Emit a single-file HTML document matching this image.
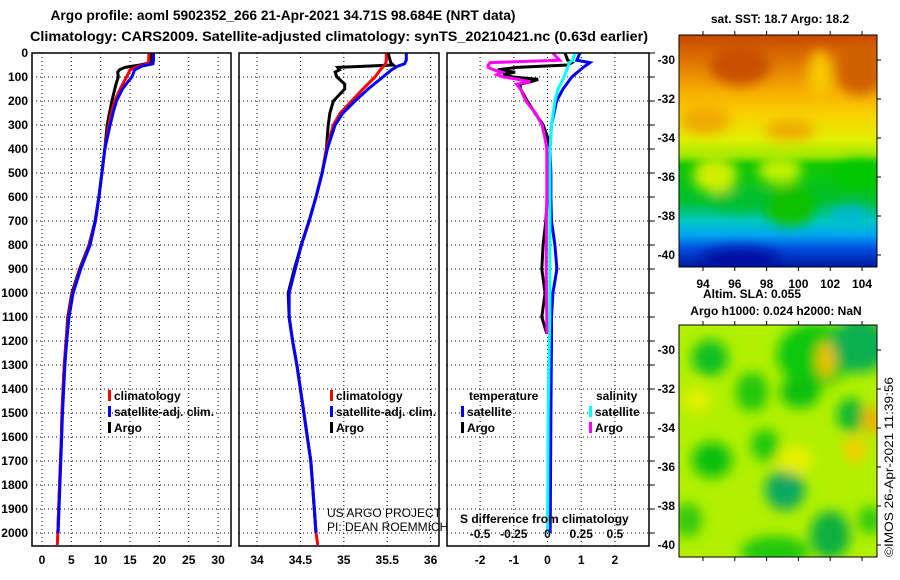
<!DOCTYPE html>
<html><head><meta charset="utf-8"><style>
html,body{margin:0;padding:0;background:#fff;}
svg{display:block;font-family:"Liberation Sans",Arial,sans-serif;}
.b{font-weight:bold;font-size:12px;}
</style></head><body>
<svg id="chart" width="900" height="580" viewBox="0 0 900 580" xmlns="http://www.w3.org/2000/svg">
<defs>
<filter id="blur" x="-20%" y="-20%" width="140%" height="140%"><feGaussianBlur stdDeviation="6"/></filter>
<clipPath id="clipM1"><rect x="679" y="35" width="198" height="232"/></clipPath>
<clipPath id="clipM2"><rect x="679" y="325" width="198" height="232"/></clipPath>
<linearGradient id="sstGrad" x1="0" y1="0" x2="0" y2="1">
<stop offset="0" stop-color="#c84800"/><stop offset="0.12" stop-color="#e07800"/><stop offset="0.25" stop-color="#f8b000"/><stop offset="0.35" stop-color="#f8d400"/><stop offset="0.45" stop-color="#e0f000"/><stop offset="0.52" stop-color="#a0e800"/><stop offset="0.56" stop-color="#10c800"/><stop offset="0.72" stop-color="#00c030"/><stop offset="0.8" stop-color="#00c8c0"/><stop offset="0.86" stop-color="#00a8f0"/><stop offset="0.92" stop-color="#0050e0"/><stop offset="1" stop-color="#0018a0"/>
</linearGradient>
</defs>
<g id="titles">
<text x="283" y="20" text-anchor="middle" font-weight="bold" font-size="14" textLength="465" lengthAdjust="spacingAndGlyphs">Argo profile: aoml 5902352_266 21-Apr-2021 34.71S 98.684E (NRT data)</text>
<text x="339" y="41" text-anchor="middle" font-weight="bold" font-size="14" textLength="618" lengthAdjust="spacingAndGlyphs">Climatology: CARS2009. Satellite-adjusted climatology: synTS_20210421.nc (0.63d earlier)</text>
</g>
<g id="grids"></g>
<g id="series"></g>
<g id="frames"></g>
<g id="labels"></g>

<g clip-path="url(#clipM1)">
<rect x="679" y="35" width="198" height="232" fill="url(#sstGrad)"/>
<g filter="url(#blur)">
<ellipse cx="740" cy="65" rx="30" ry="20" fill="#c85000"/>
<ellipse cx="860" cy="70" rx="25" ry="25" fill="#d06000"/>
<ellipse cx="820" cy="75" rx="12" ry="25" fill="#f8c800"/>
<ellipse cx="705" cy="120" rx="25" ry="14" fill="#f0a800"/>
<ellipse cx="790" cy="130" rx="25" ry="10" fill="#f0a800"/>
<ellipse cx="715" cy="175" rx="22" ry="18" fill="#d0f000"/>
<ellipse cx="780" cy="170" rx="22" ry="14" fill="#c0f000"/>
<ellipse cx="860" cy="175" rx="25" ry="15" fill="#00c800"/>
<ellipse cx="790" cy="206" rx="26" ry="20" fill="#10c000"/>
<ellipse cx="740" cy="200" rx="30" ry="10" fill="#00c030"/>
<ellipse cx="850" cy="215" rx="20" ry="10" fill="#00b8d0"/>
<ellipse cx="740" cy="260" rx="40" ry="12" fill="#0010a0"/>
</g>
</g>
<g clip-path="url(#clipM2)">
<rect x="679" y="325" width="198" height="232" fill="#b0f000"/>
<g filter="url(#blur)">
<ellipse cx="815" cy="355" rx="38" ry="32" fill="#10c810"/>
<ellipse cx="860" cy="345" rx="28" ry="28" fill="#10b050"/>
<ellipse cx="710" cy="358" rx="18" ry="18" fill="#10c020"/>
<ellipse cx="752" cy="392" rx="16" ry="20" fill="#20c810"/>
<ellipse cx="800" cy="392" rx="20" ry="16" fill="#10c010"/>
<ellipse cx="851" cy="415" rx="14" ry="17" fill="#10b830"/>
<ellipse cx="712" cy="460" rx="20" ry="18" fill="#10c010"/>
<ellipse cx="765" cy="445" rx="14" ry="16" fill="#20c810"/>
<ellipse cx="785" cy="490" rx="20" ry="20" fill="#10a860"/>
<ellipse cx="830" cy="535" rx="20" ry="24" fill="#10b040"/>
<ellipse cx="775" cy="552" rx="34" ry="16" fill="#20c810"/>
<ellipse cx="688" cy="520" rx="14" ry="17" fill="#30c810"/>
<ellipse cx="870" cy="520" rx="12" ry="14" fill="#30c810"/>
<ellipse cx="826" cy="360" rx="9" ry="18" fill="#f0c000"/>
<ellipse cx="872" cy="420" rx="10" ry="14" fill="#f0b000"/>
<ellipse cx="855" cy="450" rx="12" ry="14" fill="#f0d000"/>
<ellipse cx="697" cy="400" rx="14" ry="14" fill="#e0f000"/>
<ellipse cx="795" cy="460" rx="18" ry="14" fill="#e8f000"/>
</g>
</g>
<rect x="679" y="35" width="198" height="232" fill="none" stroke="#000" stroke-width="1"/>
<rect x="679" y="325" width="198" height="232" fill="none" stroke="#000" stroke-width="1"/>
<text x="780" y="23" text-anchor="middle" class="b">sat. SST: 18.7 Argo: 18.2</text>
<text x="703" y="298" class="b">Altim. SLA: 0.055</text>
<text x="776" y="315" text-anchor="middle" class="b">Argo h1000: 0.024 h2000: NaN</text>
<text transform="translate(893,557) rotate(-90)" font-size="12" textLength="180" lengthAdjust="spacingAndGlyphs">©IMOS 26-Apr-2021 11:39:56</text>
<g id="mapaxes"></g>

<script>
const depthClim = [0,30,45,55,70,100,150,200,250,300,400,500,600,700,800,900,1000,1100,1200,1300,1400,1500,1600,1700,1800,1900,2000,2050];
const tempClim = [18.2,18.2,18.0,16.5,15.0,14.4,13.3,12.4,11.8,11.4,10.7,10.2,9.7,9.1,8.1,6.5,5.2,4.5,4.1,3.8,3.6,3.4,3.3,3.15,3.0,2.85,2.7,2.6];
const depthSat = [0,30,45,55,70,100,150,200,250,300,400,500,600,700,800,900,1000,1100,1200,1300,1400,1500,1600,1700,1800,1900,2000];
const tempSat = [19.0,19.0,18.9,17.0,15.8,15.3,13.7,12.7,12.1,11.6,10.7,10.2,9.7,9.1,8.2,6.6,5.3,4.6,4.2,3.9,3.7,3.5,3.35,3.2,3.05,2.9,2.75];
const depthArgo = [0,40,50,60,70,80,100,130,150,200,250,300,400,500,600,700,800,900,1000,1100,1200,1300,1400,1500,1600,1700,1800,1900,2000];
const tempArgo = [18.6,18.6,16.7,14.1,13.2,12.9,13.0,12.6,12.4,11.9,11.5,11.1,10.7,10.2,9.7,9.05,8.0,6.4,5.1,4.4,4.1,3.8,3.6,3.4,3.3,3.15,3.0,2.85,2.7];
const salClim = [35.49,35.49,35.48,35.46,35.42,35.36,35.22,35.09,34.96,34.88,34.80,34.75,34.68,34.60,34.51,34.44,34.37,34.37,34.41,34.46,34.50,34.54,34.58,34.62,34.64,34.66,34.68,34.70];
const salSat = [35.72,35.72,35.70,35.62,35.55,35.45,35.28,35.13,34.99,34.90,34.81,34.75,34.68,34.60,34.51,34.44,34.37,34.37,34.41,34.46,34.50,34.54,34.58,34.62,34.64,34.66,34.68];
const salArgo = [35.51,35.54,35.57,34.93,34.95,34.90,34.92,35.01,35.01,34.88,34.84,34.82,34.80,34.75,34.68,34.60,34.51,34.43,34.36,34.37,34.41,34.46,34.50,34.54,34.58,34.62,34.64,34.66,34.68];
const depthDiffSat = [0,30,40,60,100,150,200,300,400,500,600,700,800,900,1000,1100,1200,1500,2000];
const tempDiffSat = [0.96,0.87,1.26,1.06,0.72,0.46,0.27,0.12,0.07,0.1,0.1,0.12,0.22,0.28,0.16,0.12,0.12,0.1,0.08];
const salDiffSat = [0.205,0.188,0.163,0.15,0.123,0.078,0.055,0.03,0.018,0.018,0.018,0.018,0.018,0.018,0.018,0.018,0.013,0.005,0.0];
const depthDiffArgo = [0,30,40,50,60,70,80,90,100,110,120,130,150,200,250,300,350,400,500,600,700,800,900,1000,1100,1170];
const tempDiffArgo = [0.52,0.6,0.72,0.6,-0.91,-1.47,-0.96,-1.32,-1.02,-0.28,-0.5,-0.82,-0.8,-0.6,-0.37,-0.13,0,0.07,0,0,-0.05,-0.13,-0.17,-0.07,-0.17,-0.02];
const salDiffArgo = [0.04,0.09,-0.425,-0.44,-0.44,-0.4,-0.34,-0.375,-0.325,-0.22,-0.13,-0.23,-0.2,-0.16,-0.09,-0.04,-0.02,-0.005,-0.005,-0.005,-0.008,-0.008,-0.01,-0.008,-0.005,-0.005];
const depthTicks = [0,100,200,300,400,500,600,700,800,900,1000,1100,1200,1300,1400,1500,1600,1700,1800,1900,2000];
const tempTicks = [0,5,10,15,20,25,30];
const salTicks = [34,34.5,35,35.5,36];
const tempDiffTicks = [-2,-1,0,1,2];
const salDiffTicks = ["-0.5","-0.25","0","0.25","0.5"];
const latTicks = [-30,-32,-34,-36,-38,-40];
const lonTicks = [94,96,98,100,102,104];

const TOP=53, BOT=546;
const yD = d => TOP + d*0.24;
const xT = v => 42 + v*5.87;
const xS = v => 257 + (v-34)*86.8;
const xTd = v => 547.5 + v*33.7;
const xSd = v => 547.5 + v*134.8;
const yLat1 = l => 60 + (-30-l)*19.5;
const yLat2 = l => 350 + (-30-l)*19.5;
const xLon = l => 703 + (l-94)*15.9;
const panels = [{x0:32,x1:231},{x0:239,x1:439},{x0:447,x1:649}];
const NS='http://www.w3.org/2000/svg';
function mk(tag, attrs, parent){const e=document.createElementNS(NS,tag);for(const k in attrs)e.setAttribute(k,attrs[k]);document.getElementById(parent).appendChild(e);return e;}

panels.forEach((p,i)=>{
  depthTicks.forEach(d=>{ if(d===0)return;
    const g=mk('line',{x1:p.x0,x2:p.x1,y1:yD(d),y2:yD(d),stroke:'#000','stroke-width':1,'stroke-dasharray':'1,3'},'grids');
    
    
  });
});
tempTicks.forEach(v=>{const g=mk('line',{x1:xT(v),x2:xT(v),y1:TOP,y2:BOT,stroke:'#000','stroke-dasharray':'1,3'},'grids');
  
  });
salTicks.forEach(v=>{const g=mk('line',{x1:xS(v),x2:xS(v),y1:TOP,y2:BOT,stroke:'#000','stroke-dasharray':'1,3'},'grids');
  
  });
tempDiffTicks.forEach(v=>{const g=mk('line',{x1:xTd(v),x2:xTd(v),y1:TOP,y2:BOT,stroke:'#000','stroke-dasharray':'1,3'},'grids');
  
  });

function line(ds, vs, xf, color, name){
  const pts = ds.map((d,i)=>xf(vs[i]).toFixed(1)+','+yD(d).toFixed(1)).join(' ');
  const e = mk('polyline',{points:pts,fill:'none',stroke:color,'stroke-width':3,'stroke-linejoin':'miter'},'series');
  
  
}
line(depthArgo,tempArgo,xT,'#000','temp-argo-line');
line(depthClim,tempClim,xT,'#ff0000','temp-climatology-line');
line(depthSat,tempSat,xT,'#0000ff','temp-satellite-line');
line(depthArgo,salArgo,xS,'#000','sal-argo-line');
line(depthClim,salClim,xS,'#ff0000','sal-climatology-line');
line(depthSat,salSat,xS,'#0000ff','sal-satellite-line');
line(depthDiffArgo,tempDiffArgo,xTd,'#000','temp-diff-argo-line');
line(depthDiffSat,tempDiffSat,xTd,'#0000ff','temp-diff-satellite-line');
line(depthDiffSat,salDiffSat,xSd,'#00ffff','sal-diff-satellite-line');
line(depthDiffArgo,salDiffArgo,xSd,'#ff00ff','sal-diff-argo-line');

panels.forEach((p,i)=>{
  const r=mk('rect',{x:p.x0,y:TOP,width:p.x1-p.x0,height:BOT-TOP,fill:'none',stroke:'#000','stroke-width':1.5},'frames');
  
  
});
depthTicks.forEach(d=>{
  const t=mk('text',{x:28,y:yD(d)+4,'text-anchor':'end',class:'b'},'labels'); t.textContent=d;
  
  
  const tk=mk('line',{x1:649,x2:655,y1:yD(d),y2:yD(d),stroke:'#000'},'frames');
  
  
});
tempTicks.forEach(v=>{const t=mk('text',{x:xT(v),y:564,'text-anchor':'middle',class:'b'},'labels');t.textContent=v;
  
  });
salTicks.forEach(v=>{const t=mk('text',{x:xS(v),y:564,'text-anchor':'middle',class:'b'},'labels');t.textContent=v;
  
  });
tempDiffTicks.forEach(v=>{const t=mk('text',{x:xTd(v),y:564,'text-anchor':'middle',class:'b'},'labels');t.textContent=v;
  
  });
salDiffTicks.forEach(s=>{const t=mk('text',{x:xSd(parseFloat(s)),y:538,'text-anchor':'middle',class:'b'},'labels');t.textContent=s;
  
  });

function leg(x,y,color,txt,name){
  if(color){const r=mk('rect',{x:x,y:y-10,width:3,height:11,fill:color},'labels');
    
    }
  const t=mk('text',{x:x+6,y:y,class:'b'},'labels');t.textContent=txt;
  
  
}
leg(108,400,'#ff0000','climatology','legend-climatology-1');
leg(108,416,'#0000ff','satellite-adj. clim.','legend-satellite-1');
leg(108,432,'#000','Argo','legend-argo-1');
leg(330,400,'#ff0000','climatology','legend-climatology-2');
leg(330,416,'#0000ff','satellite-adj. clim.','legend-satellite-2');
leg(330,432,'#000','Argo','legend-argo-2');
leg(463,400,null,'temperature','legend-temperature-header');
leg(461,416,'#0000ff','satellite','legend-temp-satellite');
leg(461,432,'#000','Argo','legend-temp-argo');
leg(590,400,null,'salinity','legend-salinity-header');
leg(589,416,'#00ffff','satellite','legend-sal-satellite');
leg(589,432,'#ff00ff','Argo','legend-sal-argo');
(function(){
 const a=mk('text',{x:460,y:523,class:'b'},'labels');a.textContent='S difference from climatology';
 
 
 const b=mk('text',{x:327,y:517,'font-size':12},'labels');b.textContent='US ARGO PROJECT';
 
 
 const c=mk('text',{x:327,y:531,'font-size':12},'labels');c.textContent='PI: DEAN ROEMMICH';
 
 
})();

latTicks.forEach(l=>{
  [[yLat1,'sst-lat-label'],[yLat2,'sla-lat-label']].forEach(([f,n])=>{
    const t=mk('text',{x:675,y:f(l)+4,'text-anchor':'end',class:'b'},'mapaxes');t.textContent=l;
    
    
    mk('line',{x1:877,x2:881,y1:f(l),y2:f(l),stroke:'#000'},'mapaxes');
  });
});
lonTicks.forEach(l=>{
  const t=mk('text',{x:xLon(l),y:288,'text-anchor':'middle',class:'b'},'mapaxes');t.textContent=l;
  
  
  [35,267,325,557].forEach((y,i)=>mk('line',{x1:xLon(l),x2:xLon(l),y1:y,y2:y+(i%2?4:-4),stroke:'#000'},'mapaxes'));
});
</script>
</svg>
</body></html>
